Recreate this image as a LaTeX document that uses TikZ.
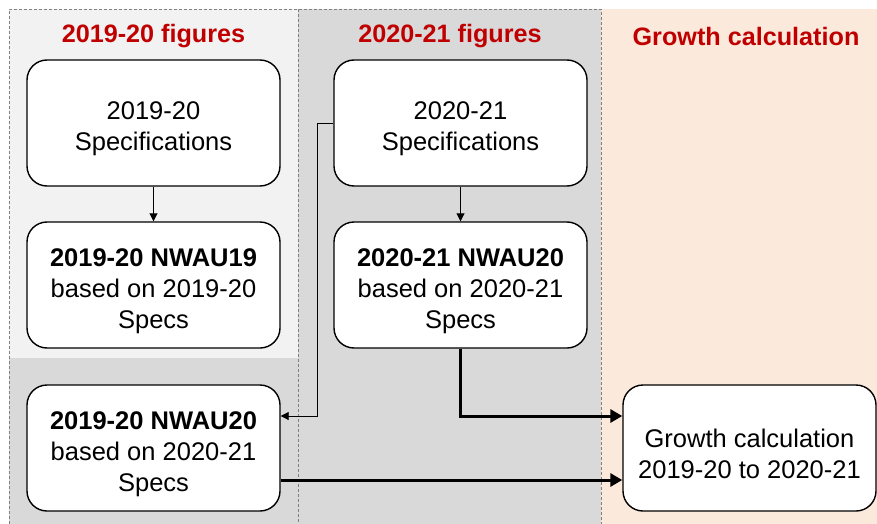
\documentclass[tikz,border=0pt]{standalone}
\usepackage{fontspec}
\setmainfont{Liberation Sans}
\usetikzlibrary{arrows.meta}
\definecolor{lightpanel}{HTML}{F2F2F2}
\definecolor{darkpanel}{HTML}{D9D9D9}
\definecolor{peachpanel}{HTML}{FBE9DB}
\definecolor{headred}{HTML}{C00000}
\newcommand{\boxgap}{\rule{0pt}{30pt}}
\begin{document}
\begin{tikzpicture}[x=1pt, y=-1pt,
    box/.style={draw, fill=white, line width=1.4pt, rounded corners=20pt, minimum width=253pt, minimum height=126pt, align=center, font=\fontsize{25.5}{31}\selectfont},
    head/.style={text=headred, font=\fontsize{25.2}{29}\selectfont\bfseries},
    panel/.style={gray, dash pattern=on 3pt off 2pt, line width=0.8pt},
    thinarrow/.style={-{Triangle[length=8pt,width=8pt]}, line width=0.9pt},
    thickarrow/.style={-{Triangle[length=12pt,width=13pt]}, line width=3pt}]
      \useasboundingbox (0,0) rectangle (877,524);
      % panels
      \fill[lightpanel] (9,9) rectangle (298,358);
      \fill[darkpanel] (9,358) rectangle (298,524);
      \fill[darkpanel] (298,9) rectangle (601,524);
      \fill[peachpanel] (601,9) rectangle (877,524);
      \draw[panel] (9,524) -- (9,9) -- (601,9) -- (601,524);
      \draw[panel] (298,9) -- (298,524);
      \node[head] (h19) at (153.5,36) {2019-20 figures};
      \node[head] (h20) at (450,36) {2020-21 figures};
      \node[head] (hgr) at (746,36) {Growth calculation};
      % boxes
      \node[box] (spec19) at (153.5,123) {\boxgap 2019-20\\Specifications};
      \node[box] (nwau19) at (153.5,285) {\boxgap\textbf{2019-20 NWAU19}\\based on 2019-20\\Specs};
      \node[box] (spec20) at (460.5,123) {\boxgap 2020-21\\Specifications};
      \node[box] (nwau20) at (460.5,285) {\boxgap\textbf{2020-21 NWAU20}\\based on 2020-21\\Specs};
      \node[box] (back20) at (153.5,448) {\boxgap\textbf{2019-20 NWAU20}\\based on 2020-21\\Specs};
      \node[box] (growth) at (749.5,448) {\boxgap Growth calculation\\2019-20 to 2020-21};
      % connectors
      \draw[thinarrow] (spec19) -- (nwau19);
      \draw[thinarrow] (spec20) -- (nwau20);
      \draw[thinarrow] (spec20.west) -- ++(-16,0) |- ([yshift=32pt]back20.east);
      \draw[thickarrow] (nwau20.south) |- ([yshift=32pt]growth.west);
      \draw[thickarrow] ([yshift=-32pt]back20.east) -- ([yshift=-32pt]growth.west);
  \end{tikzpicture}
\end{document}
